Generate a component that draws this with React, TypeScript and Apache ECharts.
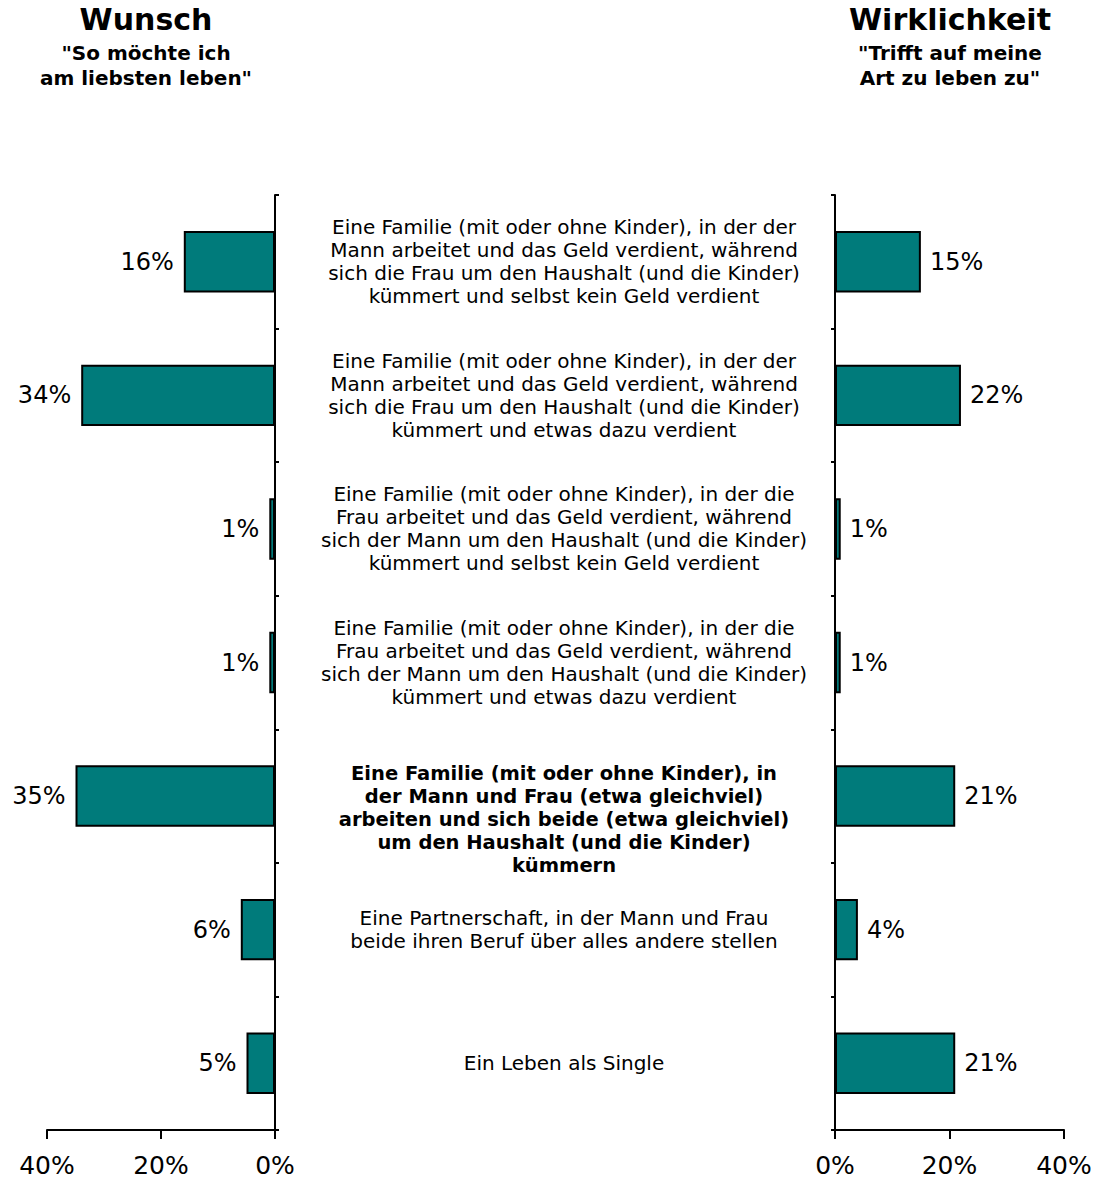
import React, { useEffect, useRef } from "react";
import * as echarts from "echarts";

const categories = [
  "Eine Familie (mit oder ohne Kinder), in der der\nMann arbeitet und das Geld verdient, während\nsich die Frau um den Haushalt (und die Kinder)\nkümmert und selbst kein Geld verdient",
  "Eine Familie (mit oder ohne Kinder), in der der\nMann arbeitet und das Geld verdient, während\nsich die Frau um den Haushalt (und die Kinder)\nkümmert und etwas dazu verdient",
  "Eine Familie (mit oder ohne Kinder), in der die\nFrau arbeitet und das Geld verdient, während\nsich der Mann um den Haushalt (und die Kinder)\nkümmert und selbst kein Geld verdient",
  "Eine Familie (mit oder ohne Kinder), in der die\nFrau arbeitet und das Geld verdient, während\nsich der Mann um den Haushalt (und die Kinder)\nkümmert und etwas dazu verdient",
  "Eine Familie (mit oder ohne Kinder), in\nder Mann und Frau (etwa gleichviel)\narbeiten und sich beide (etwa gleichviel)\num den Haushalt (und die Kinder)\nkümmern",
  "Eine Partnerschaft, in der Mann und Frau\nbeide ihren Beruf über alles andere stellen",
  "Ein Leben als Single",
];
const boldIndex = 4;
const wunsch = [16, 34, 1, 1, 35, 6, 5];
const wirklichkeit = [15, 22, 1, 1, 21, 4, 21];
const xTicks = { min: 0, max: 40, interval: 20 };

const FONT = "DejaVu Sans";
const TEAL = "#007B7B";

export default function App() {
  const ref = useRef<HTMLDivElement>(null);
  useEffect(() => {
    if (!ref.current) return;
    const chart = echarts.init(ref.current, null, { renderer: "svg" });
    const axisLine = { show: true, lineStyle: { color: "#000", width: 2 } };
    const xAxisCommon = {
      type: "value",
      min: xTicks.min,
      max: xTicks.max,
      interval: xTicks.interval,
      axisLine,
      axisTick: { show: true, length: 9, inside: false, lineStyle: { color: "#000", width: 2 } },
      axisLabel: {
        formatter: "{value}%",
        fontSize: 25,
        fontFamily: FONT,
        color: "#000",
        margin: 23,
      },
      splitLine: { show: false },
    };
    const yAxisCommon = {
      type: "category",
      inverse: true,
      data: categories,
      axisLine,
      axisTick: { show: true, length: 4, inside: false, lineStyle: { color: "#000", width: 2 } },
    };
    const barCommon = {
      type: "bar",
      barWidth: "46%",
      itemStyle: { color: TEAL, borderColor: "#000", borderWidth: 2 },
    };
    const titleText = (x: number, y: number, text: string, size: number) => ({
      type: "text",
      x,
      y,
      style: {
        text,
        fill: "#000",
        font: `bold ${size}px "${FONT}"`,
        lineHeight: 25,
        textAlign: "center",
        textVerticalAlign: "top",
      },
    });
    chart.setOption({
      animation: false,
      backgroundColor: "#fff",
      textStyle: { fontFamily: FONT },
      graphic: [
        titleText(146, 7, "Wunsch", 30),
        titleText(146, 40, "\"So möchte ich\nam liebsten leben\"", 20),
        titleText(950, 7, "Wirklichkeit", 30),
        titleText(950, 40, "\"Trifft auf meine\nArt zu leben zu\"", 20),
      ],
      grid: [
        { left: 47, width: 228, top: 195, bottom: 52 },
        { left: 835, width: 229, top: 195, bottom: 52 },
      ],
      xAxis: [
        { ...xAxisCommon, gridIndex: 0, inverse: true },
        { ...xAxisCommon, gridIndex: 1 },
      ],
      yAxis: [
        { ...yAxisCommon, gridIndex: 0, position: "right", axisLabel: { show: false } },
        {
          ...yAxisCommon,
          gridIndex: 1,
          position: "left",
          axisLabel: {
            show: true,
            interval: 0,
            margin: 271,
            align: "center",
            formatter: (v: string, i: number) =>
              i === boldIndex ? "{b|\n\n" + v + "}" : "{n|" + v + "}",
            rich: {
              n: { fontSize: 20, lineHeight: 23, fontFamily: FONT, color: "#000", align: "center" },
              b: {
                fontSize: 19.5,
                lineHeight: 23,
                fontFamily: FONT,
                fontWeight: "bold",
                color: "#000",
                align: "center",
              },
            },
          },
        },
      ],
      series: [
        {
          ...barCommon,
          name: "Wunsch",
          xAxisIndex: 0,
          yAxisIndex: 0,
          data: wunsch,
          label: {
            show: true,
            position: "left",
            distance: 10,
            formatter: "{c}%",
            fontSize: 24,
            fontFamily: FONT,
            color: "#000",
          },
        },
        {
          ...barCommon,
          name: "Wirklichkeit",
          xAxisIndex: 1,
          yAxisIndex: 1,
          data: wirklichkeit,
          label: {
            show: true,
            position: "right",
            distance: 9,
            formatter: "{c}%",
            fontSize: 24,
            fontFamily: FONT,
            color: "#000",
          },
        },
      ],
    });
    return () => chart.dispose();
  }, []);
  return <div ref={ref} style={{ width: 1106, height: 1182, margin: -8 }} />;
}
